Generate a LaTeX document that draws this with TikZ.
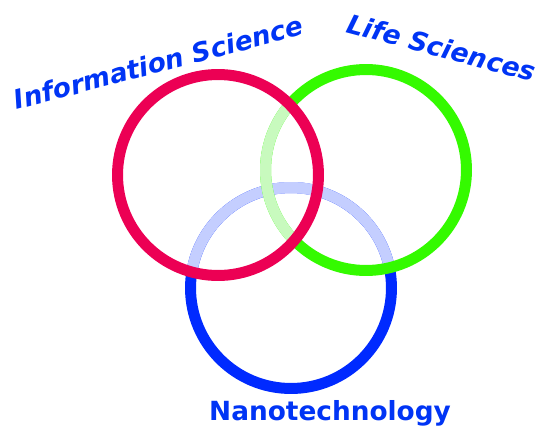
\documentclass[tikz,border=0pt]{standalone}
\usepackage{fontspec}
\setsansfont{DejaVu Sans}
\definecolor{infored}{RGB}{236,0,84}
\definecolor{lifegreen}{RGB}{52,250,0}
\definecolor{lifepale}{RGB}{200,250,190}
\definecolor{nanoblue}{RGB}{0,42,255}
\definecolor{nanopale}{RGB}{196,206,255}
\definecolor{textblue}{RGB}{0,52,245}
\begin{document}
\begin{tikzpicture}
    [
    x=0.02cm, y=-0.02cm,
    ring/.style={line width=0.22cm},
    fieldname/.style={text=textblue, font=\sffamily\bfseries\fontsize{15}{18}\selectfont, anchor=base, inner sep=0pt},
    ]
    \useasboundingbox (0,0) rectangle (538,433);
    \def\ringr{2.01cm}
    \coordinate (info) at (218,175);
    \coordinate (life) at (366,170);
    \coordinate (nano) at (291,288);
    % bottom ring, faded where the other two discs cover it
    \draw[ring, nanoblue] (nano) circle[radius=\ringr];
    \begin{scope}
      \clip (info) circle[radius=\ringr];
      \draw[ring, nanopale] (nano) circle[radius=\ringr];
    \end{scope}
    \begin{scope}
      \clip (life) circle[radius=\ringr];
      \draw[ring, nanopale] (nano) circle[radius=\ringr];
    \end{scope}
    % middle ring, faded inside the top one
    \draw[ring, lifegreen] (life) circle[radius=\ringr];
    \begin{scope}
      \clip (info) circle[radius=\ringr];
      \draw[ring, lifepale] (life) circle[radius=\ringr];
    \end{scope}
    % top ring
    \draw[ring, infored] (info) circle[radius=\ringr];
    % names
    \node[fieldname, rotate=14.7] (infoname) at (161,72) {\itshape Information Science};
    \node[fieldname, rotate=-14.9] (lifename) at (439,57) {\itshape Life Sciences};
    \node[fieldname] (nanoname) at (330,420) {Nanotechnology};
  \end{tikzpicture}
\end{document}
